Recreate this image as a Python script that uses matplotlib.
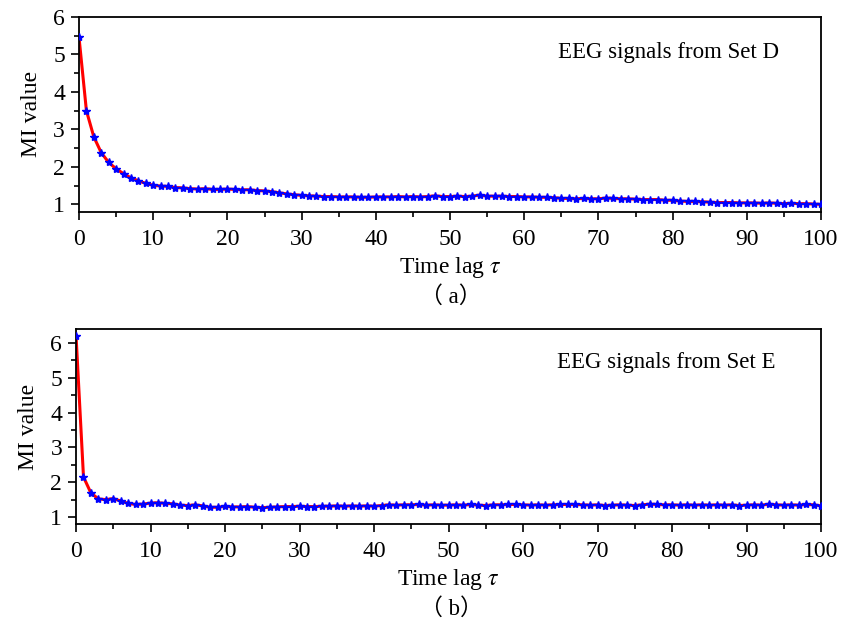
import matplotlib
matplotlib.use("Agg")
import matplotlib.pyplot as plt
from matplotlib.ticker import MultipleLocator

lags = list(range(0, 101))

mi_set_d = [5.46, 3.50, 2.80, 2.38, 2.12, 1.95, 1.82, 1.71, 1.63, 1.56,
            1.51, 1.49, 1.48, 1.45, 1.44, 1.42, 1.41, 1.42, 1.40, 1.40,
            1.41, 1.40, 1.39, 1.39, 1.37, 1.36, 1.34, 1.31, 1.28, 1.26,
            1.24, 1.23, 1.22, 1.21, 1.21, 1.20, 1.20, 1.20, 1.19, 1.19,
            1.20, 1.20, 1.20, 1.21, 1.20, 1.21, 1.20, 1.21, 1.23, 1.21,
            1.21, 1.22, 1.21, 1.22, 1.25, 1.22, 1.22, 1.22, 1.21, 1.21,
            1.20, 1.20, 1.19, 1.19, 1.18, 1.16, 1.16, 1.15, 1.16, 1.15,
            1.15, 1.17, 1.16, 1.15, 1.15, 1.14, 1.13, 1.13, 1.13, 1.11,
            1.11, 1.09, 1.08, 1.08, 1.07, 1.06, 1.05, 1.05, 1.05, 1.04,
            1.04, 1.04, 1.03, 1.04, 1.03, 1.02, 1.03, 1.02, 1.02, 1.01,
            1.00]

mi_set_e = [6.21, 2.15, 1.69, 1.52, 1.50, 1.53, 1.46, 1.39, 1.36, 1.37,
            1.40, 1.41, 1.39, 1.38, 1.34, 1.33, 1.35, 1.32, 1.28, 1.28,
            1.31, 1.29, 1.29, 1.30, 1.28, 1.27, 1.28, 1.29, 1.30, 1.30,
            1.31, 1.30, 1.30, 1.31, 1.31, 1.32, 1.31, 1.32, 1.31, 1.32,
            1.31, 1.33, 1.35, 1.34, 1.35, 1.35, 1.36, 1.34, 1.35, 1.34,
            1.34, 1.35, 1.34, 1.36, 1.34, 1.33, 1.35, 1.35, 1.36, 1.36,
            1.35, 1.34, 1.35, 1.34, 1.35, 1.36, 1.36, 1.36, 1.35, 1.34,
            1.35, 1.33, 1.34, 1.35, 1.34, 1.33, 1.35, 1.37, 1.36, 1.35,
            1.35, 1.34, 1.35, 1.34, 1.35, 1.34, 1.35, 1.34, 1.35, 1.33,
            1.34, 1.35, 1.34, 1.37, 1.35, 1.34, 1.35, 1.34, 1.36, 1.35,
            1.32]

xticks = list(range(0, 101, 10))

plt.rcParams['font.family'] = ['Liberation Serif', 'Noto Sans CJK SC', 'DejaVu Sans']
plt.rcParams['mathtext.fontset'] = 'stix'

fig = plt.figure(figsize=(8.43, 6.27), dpi=100)

panels = [
    dict(rect=[0.0937, 0.662, 0.8803, 0.311], data=mi_set_d, ylim=(0.8, 6.0),
         yticks=[1, 2, 3, 4, 5, 6], title="EEG signals from Set D", tag="（ a）",
         ty=0.82, tagy=1 - 297 / 627),
    dict(rect=[0.0902, 0.1643, 0.8838, 0.311], data=mi_set_e, ylim=(0.8, 6.4),
         yticks=[1, 2, 3, 4, 5, 6], title="EEG signals from Set E", tag="（ b）",
         ty=0.826, tagy=1 - 609 / 627),
]

for p in panels:
    ax = fig.add_axes(p['rect'])
    ax.plot(lags, p['data'], color='red', lw=2.2, zorder=2)
    ax.plot(lags, p['data'], ls='none', marker='*', ms=6, color='blue',
            markeredgecolor='blue', zorder=3)
    ax.set_xlim(0, 100)
    ax.set_ylim(*p['ylim'])
    ax.set_xticks(xticks)
    ax.set_yticks(p['yticks'])
    ax.xaxis.set_minor_locator(MultipleLocator(5))
    ax.yaxis.set_minor_locator(MultipleLocator(0.5))
    ax.tick_params(which='both', direction='out', top=False, right=False,
                   labelsize=17, width=1.2, color='black')
    ax.tick_params(axis='x', which='major', pad=6)
    ax.tick_params(axis='y', which='major', pad=4)
    ax.tick_params(which='major', length=6)
    ax.tick_params(which='minor', length=3.5)
    for s in ax.spines.values():
        s.set_linewidth(1.3)
    ax.set_ylabel("MI value", fontsize=17, labelpad=8)
    ax.set_xlabel(r"Time lag $\tau$", fontsize=17, labelpad=4)
    ax.text(0.645, p['ty'], p['title'], transform=ax.transAxes, fontsize=16.5,
            va='center', ha='left')
    fig.text(0.535, p['tagy'], p['tag'], fontsize=16.5,
             va='center', ha='center')

fig.savefig("out.png", dpi=100)
